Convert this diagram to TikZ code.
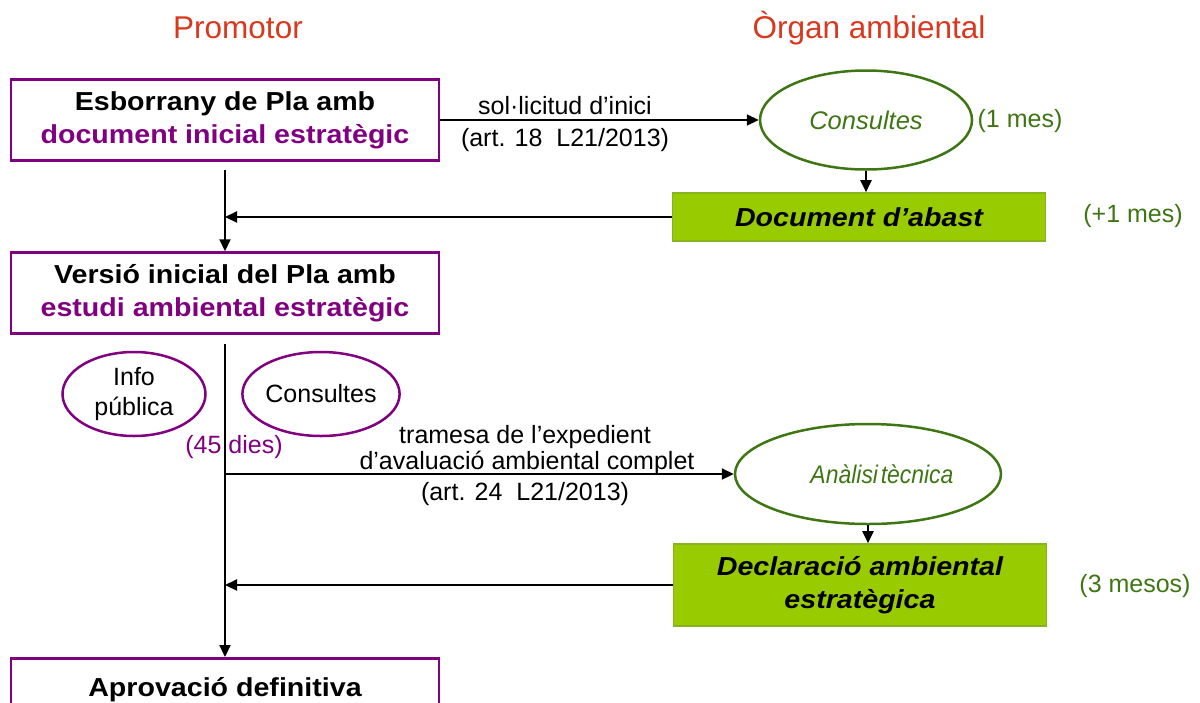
\documentclass[tikz,border=0pt]{standalone}
\usepackage{fontspec}
\setmainfont{Liberation Sans}
\newfontfamily\widesans[FakeStretch=1.1]{Liberation Sans}
\usetikzlibrary{shapes.geometric,arrows.meta}
\definecolor{hdrred}{RGB}{218,56,30}
\definecolor{plum}{RGB}{128,0,128}
\definecolor{dkgreen}{RGB}{62,118,20}
\definecolor{ltgreen}{RGB}{153,204,0}
\definecolor{ltgreenedge}{RGB}{135,180,30}
\begin{document}
\begin{tikzpicture}[x=1pt,y=-1pt,
  hdr/.style={font=\fontsize{31.5}{36}\selectfont, text=hdrred, inner sep=0pt},
  reg/.style={font=\fontsize{25}{30}\selectfont, inner sep=0pt, align=center},
  regit/.style={font=\fontsize{25.5}{30}\selectfont\itshape, inner sep=0pt, align=center, text=dkgreen},
  pbox/.style={draw=plum, line width=2.5pt, minimum width=428pt, minimum height=81pt, inner sep=0pt,
    align=center, font=\widesans\fontsize{26}{33}\selectfont\bfseries},
  gbox/.style={draw=ltgreenedge, fill=ltgreen, line width=1.6pt, minimum width=373pt, inner sep=0pt,
    align=center, font=\widesans\fontsize{26}{33}\selectfont\bfseries\itshape},
  oval/.style={ellipse, line width=2.5pt, inner sep=0pt},
  flow/.style={line width=2.2pt, -{Triangle[length=12pt,width=11pt]}}
]
\useasboundingbox (0,0) rectangle (1200,702);
\clip (0,0) rectangle (1200,702);

% headers
\node[hdr] (hp) at (238,28) {Promotor};
\node[hdr] (ho) at (869,28) {Òrgan ambiental};

% promotor boxes
\node[pbox] (b1) at (225,120) {Esborrany de Pla amb\\\textcolor{plum}{document inicial estratègic}};
\node[pbox] (b2) at (225,293) {Versió inicial del Pla amb\\\textcolor{plum}{estudi ambiental estratègic}};
\node[pbox, anchor=north, text height=38pt, text depth=43pt] (b3) at (225,657) {Aprovació definitiva};

% organ ambiental
\node[oval, draw=dkgreen, minimum width=212pt, minimum height=99pt, regit] (c1) at (866,120) {Consultes};
\node[reg, text=dkgreen] (m1) at (1020,121) {(1 mes)};
\node[gbox, minimum height=48pt] (da) at (859,217) {Document d’abast};
\node[reg, text=dkgreen] (m2) at (1133,216) {(+1 mes)};

\node[oval, draw=dkgreen, minimum width=266pt, minimum height=100pt, regit] (an) at (868,474)
  {\hspace*{28pt}\scalebox{0.9}[1]{Anàlisi\hspace{3pt}tècnica}};
\node[gbox, minimum height=82pt] (dae) at (860,585) {Declaració ambiental\\estratègica};
\node[reg, text=dkgreen] (m3) at (1135,586) {(3 mesos)};

% public info ellipses
\node[oval, draw=plum, minimum width=143pt, minimum height=84pt, reg] (ip) at (134,394) {Info\\pública};
\node[oval, draw=plum, minimum width=153pt, minimum height=84pt, reg] (c2) at (321,394) {Consultes};
\node[reg, text=plum] (d45) at (234,447) {(45 dies)};

% arrow labels
\node[reg] (l1a) at (565,106) {sol·licitud d’inici};
\node[reg] (l1b) at (565,140) {(art. 18\ \ L21/2013)};
\node[reg] (l2a) at (525,437) {tramesa de l’expedient};
\node[reg] (l2b) at (527,463) {d’avaluació ambiental complet};
\node[reg] (l2c) at (525,494) {(art. 24\ \ L21/2013)};

% connectors
\draw[flow, shorten <=8pt] (b1.south) -- (b2.north);
\draw[flow] (b1.east) -- (c1.west);
\draw[flow] (c1.south) -- (c1.south |- da.north);
\draw[flow] (da.west) -- (da.west -| b1.south);
\draw[flow, shorten <=9pt] (b2.south) -- (b3.north);
\draw[flow] (an.west -| b2.south) -- (an.west);
\draw[flow] (an.south) -- (an.south |- dae.north);
\draw[flow] (dae.west) -- (dae.west -| b2.south);
\end{tikzpicture}
\end{document}
